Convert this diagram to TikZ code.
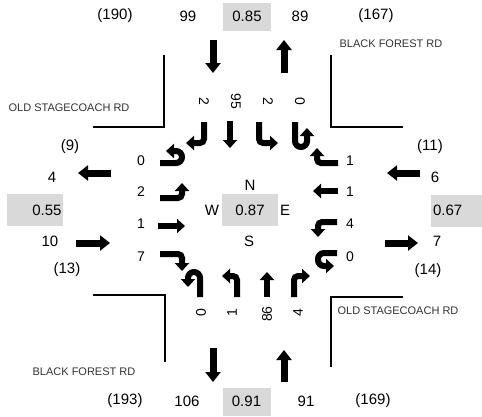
\documentclass[tikz,border=0pt]{standalone}
\usepackage{fontspec}
\setmainfont{Liberation Sans}
\usetikzlibrary{arrows.meta}
\definecolor{phfGray}{HTML}{D9D9D9}
\definecolor{roadText}{HTML}{333333}

\begin{document}
\begin{tikzpicture}[x=1pt, y=-1pt,
    every node/.style={font=\fontsize{15}{17}\selectfont, inner sep=0pt},
    phfbox/.style={fill=phfGray, minimum width=48pt, minimum height=28pt},
    sidebox/.style={fill=phfGray, minimum height=32pt},
    roadname/.style={font=\fontsize{11}{13}\selectfont, text=roadText},
    movelabel/.style={font=\fontsize{14}{16}\selectfont},
    curb/.style={line width=1.8pt},
    approach/.style={line width=7pt, -{Triangle[width=15pt,length=10pt]}},
    move/.style={line width=6pt, rounded corners=4pt, -{Triangle[width=14pt,length=8pt]}},
    uturn/.style={move, rounded corners=6pt},
  ]
  \useasboundingbox (0,0) rectangle (482,416);

  % Curb lines
  \draw[curb] (164,55) -- (164,127) -- (93,127);
  \draw[curb] (331,55) -- (331,127) -- (403,127);
  \draw[curb] (93,295) -- (165,295) -- (165,362);
  \draw[curb] (403,297) -- (331,297) -- (331,367);

  % Street names
  \node[roadname] (nwName) at (69,108) {OLD STAGECOACH RD};
  \node[roadname] (neName) at (391,44) {BLACK FOREST RD};
  \node[roadname] (swName) at (84,372) {BLACK FOREST RD};
  \node[roadname] (seName) at (398,311) {OLD STAGECOACH RD};

  % North leg totals
  \node (nTotal) at (115,16) {(190)};
  \node (nIn) at (188,16) {99};
  \node[phfbox] (nPHF) at (247,16.5) {0.85};
  \node (nOut) at (300,16) {89};
  \node (nOutTotal) at (376,16) {(167)};
  \draw[approach] (213,40) -- (213,73);
  \draw[approach] (284,73) -- (284,40);

  % South leg totals
  \node (sTotal) at (125,401) {(193)};
  \node (sOut) at (187,401) {106};
  \node[phfbox] (sPHF) at (246.5,401.5) {0.91};
  \node (sIn) at (306,401) {91};
  \node (sOutTotal) at (373,401) {(169)};
  \draw[approach] (213,348) -- (213,382);
  \draw[approach] (284,382) -- (284,350);

  % West leg totals
  \node (wTotal) at (70,147) {(9)};
  \node (wOut) at (52,177) {4};
  \node[sidebox, minimum width=56pt, text width=53pt, align=right] (wPHF) at (35,210) {0.55};
  \node (wIn) at (50,241) {10};
  \node (wOutTotal) at (67,270) {(13)};
  \draw[approach] (111,173) -- (78,173);
  \draw[approach] (76,243) -- (110,243);

  % East leg totals
  \node (eTotal) at (430,147) {(11)};
  \node (eIn) at (435,177) {6};
  \node[sidebox, minimum width=51pt, text width=47pt, align=left] (ePHF) at (456.5,210.5) {0.67};
  \node (eOut) at (437,241) {7};
  \node (eOutTotal) at (428,271) {(14)};
  \draw[approach] (420,173) -- (387,173);
  \draw[approach] (385,243) -- (418,243);

  % Intersection
  \node[phfbox, minimum width=56pt, minimum height=32pt] (iPHF) at (250,210) {0.87};
  \node (iN) at (250,185) {N};
  \node (iS) at (249,241) {S};
  \node (iW) at (212,210) {W};
  \node (iE) at (285,210) {E};

  % Southbound movements
  \node[movelabel, rotate=-90] (lNR) at (204,101) {2};
  \node[movelabel, rotate=-90] (lNT) at (236,101) {95};
  \node[movelabel, rotate=-90] (lNL) at (268,101) {2};
  \node[movelabel, rotate=-90] (lNU) at (300,101) {0};
  \draw[move] (204,122) -- (204,143) -- (186,143);
  \draw[move] (230,121) -- (230,148);
  \draw[move] (259,122) -- (259,143) -- (278,143);
  \draw[uturn] (295,122) -- (295,147) -- (307,147) -- (307,128);

  % Westbound movements
  \node[movelabel] (lER) at (350,161) {1};
  \node[movelabel] (lET) at (350,192) {1};
  \node[movelabel] (lEL) at (350,224) {4};
  \node[movelabel] (lEU) at (350,257) {0};
  \draw[move] (338,163) -- (317,163) -- (317,148);
  \draw[move] (338,191) -- (313,191);
  \draw[move] (337,222) -- (318,222) -- (318,237);
  \draw[uturn] (337,253) -- (318,253) -- (318,266) -- (334,266);

  % Northbound movements
  \node[movelabel, rotate=90] (lSU) at (201,313) {0};
  \node[movelabel, rotate=90] (lSL) at (232,313) {1};
  \node[movelabel, rotate=90] (lST) at (267,314) {86};
  \node[movelabel, rotate=90] (lSR) at (298,313) {4};
  \draw[uturn] (200,297) -- (200,272) -- (188,272) -- (188,287);
  \draw[move] (237,297) -- (237,276) -- (222,276);
  \draw[move] (267,297) -- (267,272);
  \draw[move] (294,297) -- (294,276) -- (310,276);

  % Eastbound movements
  \node[movelabel] (lWU) at (141,161) {0};
  \node[movelabel] (lWL) at (141,192) {2};
  \node[movelabel] (lWT) at (141,224) {1};
  \node[movelabel] (lWR) at (141,257) {7};
  \draw[uturn] (160,163) -- (182,163) -- (182,151) -- (166,151);
  \draw[move] (160,198) -- (182,198) -- (182,183);
  \draw[move] (158,226) -- (185,226);
  \draw[move] (160,254) -- (182,254) -- (182,271);
\end{tikzpicture}
\end{document}
